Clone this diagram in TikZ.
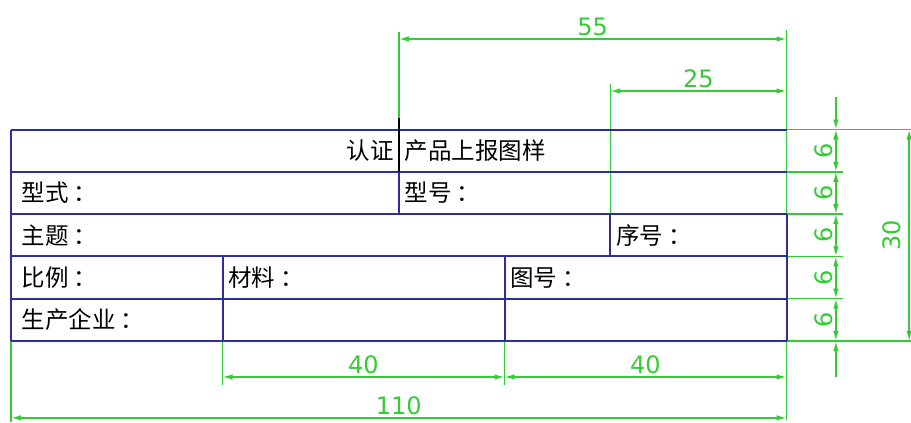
\documentclass[tikz,border=0pt]{standalone}
\usepackage{fontspec}
\newfontfamily\cjk{Noto Sans CJK SC}
\newfontfamily\dimfont{DejaVu Sans}
\usetikzlibrary{arrows.meta,positioning}
\definecolor{dimgreen}{RGB}{50,205,50}
\definecolor{frameblue}{RGB}{45,45,160}
\newcommand{\colonsep}{\kern5pt：}

\begin{document}
\begin{tikzpicture}[x=7.05pt, y=7.05pt,
    frame/.style={draw=frameblue, line width=2pt},
    dimline/.style={draw=dimgreen, line width=1.5pt},
    tip/.tip={Latex[length=10pt, width=5.5pt]},
    dimarrow/.style={dimline, tip-tip},
    dimtext/.style={text=dimgreen, font=\dimfont\fontsize{24}{24}\selectfont, inner sep=0pt, outer sep=3.5pt},
    cell/.style={font=\cjk\fontsize{23.5}{23.5}\selectfont, inner sep=0pt, anchor=west}]

    \useasboundingbox (-1.56,-11.49) rectangle (127.66,48.37);

    % grid points of the title block
    \foreach \k in {0,...,5} {
        \coordinate (L\k) at (0,6*\k); % left edge
        \coordinate (R\k) at (110,6*\k); % right edge
        \coordinate (V\k) at (117,6*\k); % on the 6-6-6 dimension line
        \coordinate (E\k) at (118,6*\k); % end of the row extension line
    }
    \coordinate (A0) at (30,0); \coordinate (A2) at (30,12); % 比例 | 材料
    \coordinate (B0) at (70,0); \coordinate (B2) at (70,12); % 材料 | 图号
    \coordinate (C2) at (85,12); \coordinate (C3) at (85,18); % 主题 | 序号
    \coordinate (M3) at (55,18); \coordinate (M4) at (55,24); % 型式 | 型号
    \coordinate (M6) at (55,31.6); % top of the black stroke

    % ends of the extension lines
    \coordinate (X55) at (55,43.8);
    \coordinate (X85) at (85,36.45);
    \coordinate (Xtop) at (110,44.1);
    \coordinate (Xbot) at (110,-11.2);
    \coordinate (Xleft) at (0,-11.5);
    \coordinate (XA) at (30,-6.24);
    \coordinate (XB) at (70,-6.24);
    \coordinate (F0) at (130,0);
    \coordinate (F5) at (130,30);

    % ends of the dimension lines
    \coordinate (P55a) at (55,42.84); \coordinate (P55b) at (110,42.84);
    \coordinate (P25a) at (85,35.46); \coordinate (P25b) at (110,35.46);
    \coordinate (P40a) at (30,-5.1); \coordinate (P40b) at (70,-5.1); \coordinate (P40c) at (110,-5.1);
    \coordinate (P110a) at (0,-10.9); \coordinate (P110b) at (110,-10.9);
    \coordinate (Vtop) at (117,34.6); \coordinate (Vbot) at (117,-5.1);
    \coordinate (P30a) at (127.4,0); \coordinate (P30b) at (127.4,30);

    % extension lines
    \draw[dimline] (M6) -- (X55);
    \draw[dimline] (C3) -- (X85);
    \draw[dimline] (R3) -- (Xtop);
    \draw[dimline] (R0) -- (Xbot);
    \draw[dimline] (L0) -- (Xleft);
    \draw[dimline] (A0) -- (XA);
    \draw[dimline] (B0) -- (XB);
    \foreach \k in {1,...,4} \draw[dimline] (R\k) -- (E\k);
    \draw[dimline] (R0) -- (F0);
    \draw[dimline] (R5) -- (F5);

    % title block
    \foreach \k in {0,...,5} \draw[frame] (L\k) -- (R\k);
    \draw[frame] (L0) -- (L5);
    \draw[frame] (R0) -- (R3);
    \draw[frame] (A0) -- (A2);
    \draw[frame] (B0) -- (B2);
    \draw[frame] (C2) -- (C3);
    \draw[frame] (M3) -- (M4);
    \draw[black, line width=1.5pt] (M4) -- (M6);

    % cell texts
    \node[cell, anchor=east] (renzheng) at (54.3,27) {认证};
    \node[cell] (chanpin) at (55.8,27) {产品上报图样};
    \node[cell] (xingshi) at (1.5,21) {型式\colonsep};
    \node[cell] (xinghao) at (55.8,21) {型号\colonsep};
    \node[cell] (zhuti) at (1.5,15) {主题\colonsep};
    \node[cell] (xuhao) at (85.8,15) {序号\colonsep};
    \node[cell] (bili) at (1.5,9) {比例\colonsep};
    \node[cell] (cailiao) at (30.8,9) {材料\colonsep};
    \node[cell] (tuhao) at (70.8,9) {图号\colonsep};
    \node[cell] (qiye) at (1.5,3) {生产企业\colonsep};

    % dimensions
    \draw[dimarrow] (P55a) -- node[dimtext, anchor=south] (d55) {55} (P55b);
    \draw[dimarrow] (P25a) -- node[dimtext, anchor=south] (d25) {25} (P25b);
    \draw[dimarrow] (P40a) -- node[dimtext, anchor=south] (d40a) {40} (P40b);
    \draw[dimarrow] (P40b) -- node[dimtext, anchor=south] (d40b) {40} (P40c);
    \draw[dimarrow] (P110a) -- node[dimtext, anchor=south] (d110) {110} (P110b);
    \draw[dimline, -tip] (Vtop) -- (V5);
    \draw[dimline, -tip] (Vbot) -- (V0);
    \foreach \k [evaluate=\k as \n using int(\k+1)] in {0,...,4}
        \draw[dimarrow] (V\k) -- node[dimtext, anchor=south, rotate=90] (d6-\k) {6} (V\n);
    \draw[dimarrow] (P30a) -- node[dimtext, anchor=south, rotate=90, outer sep=8pt] (d30) {30} (P30b);
\end{tikzpicture}
\end{document}
